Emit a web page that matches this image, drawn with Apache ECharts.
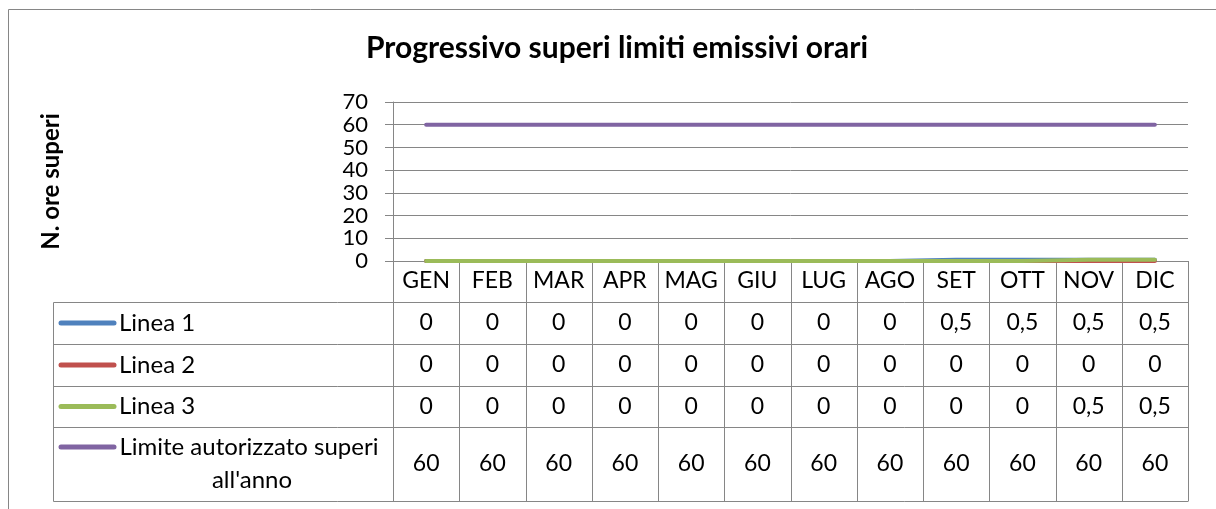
<!DOCTYPE html>
<html>
<head>
<meta charset="utf-8">
<script src="https://cdn.jsdelivr.net/npm/echarts@6/dist/echarts.min.js"></script>
<style>
html,body{margin:0;padding:0;background:#fff;}
#c{width:1216px;height:509px;}
</style>
</head>
<body>
<div id="c"></div>
<script>
// ---- data ----
const months = ['GEN','FEB','MAR','APR','MAG','GIU','LUG','AGO','SET','OTT','NOV','DIC'];
const linea1 = [0,0,0,0,0,0,0,0,0.5,0.5,0.5,0.5];
const linea2 = [0,0,0,0,0,0,0,0,0,0,0,0];
const linea3 = [0,0,0,0,0,0,0,0,0,0,0.5,0.5];
const limite = [60,60,60,60,60,60,60,60,60,60,60,60];
const seriesNames = ['Linea 1','Linea 2','Linea 3',"Limite autorizzato superi all'anno"];
const yMin = 0, yMax = 70, yStep = 10;
const chartTitle = 'Progressivo superi limiti emissivi orari';
const yAxisTitle = 'N. ore superi';

// ---- styles ----
const colors = ['#4F81BD','#C0504D','#9BBB59','#8064A2'];
const seriesData = [linea1, linea2, linea3, limite];
const FONT = 'Lato';
const GRAY = '#868686';
const FS = 23;

const chart = echarts.init(document.getElementById('c'), null, {renderer:'canvas'});

const option = {
  animation:false,
  backgroundColor:'#fff',
  title:{
    text:chartTitle, left:612, top:28, textAlign:'center',
    textStyle:{fontFamily:FONT, fontWeight:'bold', fontSize:30, color:'#000'}
  },
  grid:{left:393, right:28, top:102, bottom:248, containLabel:false},
  xAxis:{
    type:'category', data:months, boundaryGap:true,
    axisLine:{show:true, lineStyle:{color:GRAY, width:1}},
    axisTick:{show:false},
    axisLabel:{interval:0, margin:20, verticalAlign:'middle', fontFamily:FONT, fontSize:FS, color:'#000'},
    splitLine:{show:false}
  },
  yAxis:{
    type:'value', min:yMin, max:yMax, interval:yStep,
    axisLine:{show:true, lineStyle:{color:GRAY, width:1}},
    axisTick:{show:true, length:8, lineStyle:{color:GRAY}},
    axisLabel:{margin:25, fontFamily:FONT, fontSize:22, color:'#000',
               showMinLabel:true, showMaxLabel:true, hideOverlap:false},
    splitLine:{show:true, lineStyle:{color:GRAY, width:1}},
    name:yAxisTitle, nameLocation:'middle', nameRotate:90, nameGap:330,
    nameTextStyle:{fontFamily:FONT, fontWeight:'bold', fontSize:24, color:'#000'}
  },
  series: seriesNames.map((n,i)=>({
    name:n, type:'line', data:seriesData[i], symbol:'none', showSymbol:false,
    lineStyle:{color:colors[i], width:4, cap:'round', join:'round'},
    itemStyle:{color:colors[i]}, z:2+i
  }))
};
chart.setOption(option);

function fmt(v){ return String(v).replace('.', ','); }

function buildTable(){
  const g = [];
  // outer chart frame
  g.push({type:'rect', silent:true, z:-10, shape:{x:8.5, y:9.5, width:1400, height:700},
          style:{fill:'none', stroke:GRAY, lineWidth:1}});
  const c0 = chart.convertToPixel({xAxisIndex:0}, 0);
  const c1 = chart.convertToPixel({xAxisIndex:0}, 1);
  const band = c1 - c0;
  const left = c0 - band/2;
  const right = left + band*months.length;
  const axisY = chart.convertToPixel({yAxisIndex:0}, yMin);
  const headerH = 41;
  const rowH = [42,42,41,74];
  const legendLeft = 53;
  const tableTop = axisY + headerH;
  const rowTops = [];
  let y = tableTop;
  rowH.forEach(h=>{ rowTops.push(y); y += h; });
  const tableBottom = y;
  const lineStyle = {stroke:GRAY, lineWidth:1};
  const px = v => Math.round(v) + 0.5;
  // vertical lines at band boundaries
  for (let i=0;i<=months.length;i++){
    const x = px(left + band*i);
    g.push({type:'line', silent:true, shape:{x1:x, y1:axisY, x2:x, y2:tableBottom}, style:lineStyle});
  }
  // left border of legend column
  g.push({type:'line', silent:true, shape:{x1:px(legendLeft), y1:px(tableTop), x2:px(legendLeft), y2:px(tableBottom)}, style:lineStyle});
  // horizontal lines
  rowTops.concat([tableBottom]).forEach(yy=>{
    g.push({type:'line', silent:true, shape:{x1:px(legendLeft), y1:px(yy), x2:px(right), y2:px(yy)}, style:lineStyle});
  });
  // rows
  seriesNames.forEach((name,r)=>{
    const top = rowTops[r], h = rowH[r];
    const cy = top + h/2;
    // legend key
    const keyY = (r===3) ? top + 20 : cy;
    g.push({type:'line', silent:true, shape:{x1:61, y1:keyY, x2:114, y2:keyY},
            style:{stroke:colors[r], lineWidth:5, lineCap:'round'}});
    if (r===3){
      g.push({type:'text', silent:true, x:252, y:cy,
        style:{text:name, width:272, overflow:'break', align:'center', verticalAlign:'middle',
               lineHeight:33, fontFamily:FONT, fontSize:24, fill:'#000'}});
    } else {
      g.push({type:'text', silent:true, x:119, y:cy,
        style:{text:name, align:'left', verticalAlign:'middle', fontFamily:FONT, fontSize:24, fill:'#000'}});
    }
    seriesData[r].forEach((v,i)=>{
      const cx = chart.convertToPixel({xAxisIndex:0}, i);
      g.push({type:'text', silent:true, x:cx, y:cy,
        style:{text:fmt(v), align:'center', verticalAlign:'middle', fontFamily:FONT, fontSize:FS, fill:'#000'}});
    });
  });
  chart.setOption({graphic:{elements:g}});
}
buildTable();
</script>
</body>
</html>
